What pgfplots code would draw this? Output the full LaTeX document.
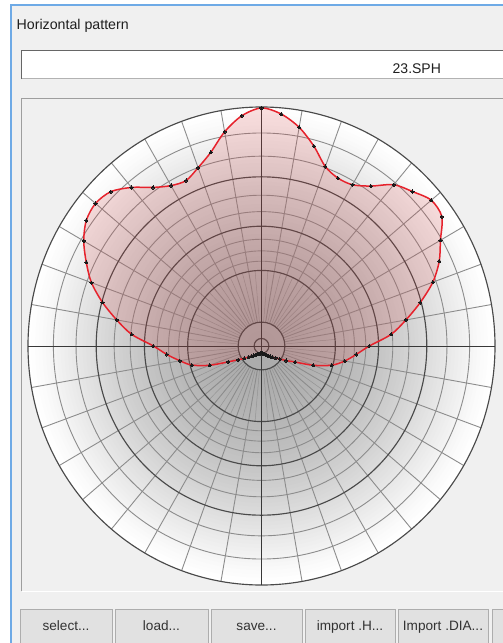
\documentclass[border=0pt]{standalone}
\usepackage{pgfplots}
\pgfplotsset{compat=1.18}
\usepackage{fontspec}
\setmainfont{Liberation Sans}
\definecolor{winbg}{HTML}{F0F0F0}
\definecolor{winblue}{RGB}{110,170,230}
\definecolor{btnfill}{HTML}{E1E1E1}
\definecolor{btnborder}{HTML}{ADADAD}
\definecolor{patred}{RGB}{230,34,44}
\definecolor{patfill}{RGB}{220,60,60}
\definecolor{gridlight}{HTML}{8C8C8C}
\definecolor{griddark}{HTML}{4A4A4A}
\pgfplotstableread{
ang r
-90 0.030
-85 0.031
-80 0.032
-75 0.034
-70 0.036
-65 0.040
-60 0.044
-55 0.050
-50 0.057
-45 0.066
-40 0.078
-35 0.095
-30 0.122
-25 0.159
-20 0.236
-15 0.311
-10 0.362
-5 0.407
0 0.462
5 0.557
10 0.628
15 0.704
20 0.781
25 0.840
30 0.885
35 0.943
40 0.949
45 0.914
50 0.881
55 0.817
60 0.779
65 0.775
70 0.799
75 0.866
80 0.929
85 0.974
90 0.996
95 0.967
100 0.910
105 0.839
110 0.794
115 0.764
120 0.775
125 0.810
130 0.866
135 0.913
140 0.928
145 0.916
150 0.879
155 0.828
160 0.775
165 0.705
170 0.630
175 0.558
180 0.463
185 0.407
190 0.355
195 0.309
200 0.236
205 0.157
210 0.115
215 0.090
220 0.072
225 0.060
230 0.052
235 0.046
240 0.042
245 0.038
250 0.036
255 0.034
260 0.032
265 0.031
270 0.030
}\pattern
\begin{document}
\begin{tikzpicture}
\path[use as bounding box] (0,0) rectangle (503bp,-643bp);
\begin{scope}[x=1bp,y=-1bp]
 \fill[white] (0,0) rectangle (503,643);
 \fill[winbg] (11,5) rectangle (503,643);
 \draw[winblue, line width=1.3bp] (11,643) -- (11,5) -- (503,5);
 \node[anchor=base west, inner sep=0, font=\fontsize{14.2bp}{17bp}\selectfont, text=black!88] at (16.5,29) {Horizontal pattern};
 % file name box
 \fill[white] (21,50) rectangle (506,79);
 \draw[black!60, line width=1bp] (21.5,79) -- (21.5,50.5) -- (506,50.5);
 \draw[black!30, line width=1bp] (21.5,78.5) -- (506,78.5);
 \node[anchor=base west, inner sep=0, font=\fontsize{14bp}{17bp}\selectfont, text=black!88] at (392.5,73) {23.SPH};
 % plot panel
 \draw[black!38, line width=1bp] (21.5,591) -- (21.5,98.5) -- (506,98.5);
 \draw[white, line width=1bp] (21.5,591.5) -- (506,591.5);
 % buttons
 \begin{scope}[every node/.style={font=\fontsize{13.6bp}{16bp}\selectfont, text=black!80, inner sep=0, anchor=base}]
 \filldraw[fill=btnfill, draw=btnborder, line width=1bp] (20.5,609.5) rectangle (112,645);
 \node at (66,630) {select...};
 \filldraw[fill=btnfill, draw=btnborder, line width=1bp] (115.5,609.5) rectangle (208,645);
 \node at (161.5,630) {load...};
 \filldraw[fill=btnfill, draw=btnborder, line width=1bp] (211.5,609.5) rectangle (302,645);
 \node at (256.5,630) {save...};
 \filldraw[fill=btnfill, draw=btnborder, line width=1bp] (305.5,609.5) rectangle (395,645);
 \node at (350,630) {import .H...};
 \filldraw[fill=btnfill, draw=btnborder, line width=1bp] (398.5,609.5) rectangle (488,645);
 \node at (443,630) {Import .DIA...};
 \filldraw[fill=btnfill, draw=btnborder, line width=1bp] (492.5,609.5) rectangle (540,645);
 \end{scope}
\end{scope}
% polar grid
\begin{scope}[shift={(261.5bp,-346bp)}, x=233.5bp, y=239bp]
 \foreach \i in {0,...,63} {
   \pgfmathsetmacro\rr{1-\i/64}
   \pgfmathsetmacro\g{33*(1-\rr*\rr)^1.25}
   \fill[black!\g] (0,0) ellipse [x radius=\rr*233.5bp, y radius=\rr*239bp];
 }
 \foreach \a in {5,15,...,355}
   \draw[black!42, line width=0.5bp] ({0.1*cos(\a)},{0.1*sin(\a)}) -- ({0.3162*cos(\a)},{0.3162*sin(\a)});
 \foreach \a in {0,10,...,350}
   \draw[gridlight, line width=0.9bp] ({0.1*cos(\a)},{0.1*sin(\a)}) -- ({cos(\a)},{sin(\a)});
 \foreach \r in {0.8913,0.7943,0.6310,0.5623,0.4467,0.3981,0.3548}
   \draw[gridlight, line width=0.9bp] (0,0) ellipse [x radius=\r*233.5bp, y radius=\r*239bp];
 \foreach \r in {1,0.7079,0.5012,0.3162,0.1,0.0316}
   \draw[griddark, line width=1.15bp] (0,0) ellipse [x radius=\r*233.5bp, y radius=\r*239bp];
 \draw[black!78, line width=1bp] (-1,0) -- (1,0) (0,-1) -- (0,1);
\end{scope}
\begin{axis}[at={(261.5bp,-346bp)}, anchor=center, scale only axis,
  width=467bp, height=478bp, xmin=-1, xmax=1, ymin=-1, ymax=1,
  hide axis, clip=false]
\addplot[data cs=polar, draw=patred, line width=1.5bp, fill=patfill, fill opacity=0.17, draw opacity=1,
  smooth, tension=0.5, mark=*, mark size=1.6bp,
  mark options={fill=black!90, draw=black!90, fill opacity=1, line width=0pt}]
  table[x=ang, y=r] {\pattern};
\end{axis}
\end{tikzpicture}
\end{document}
